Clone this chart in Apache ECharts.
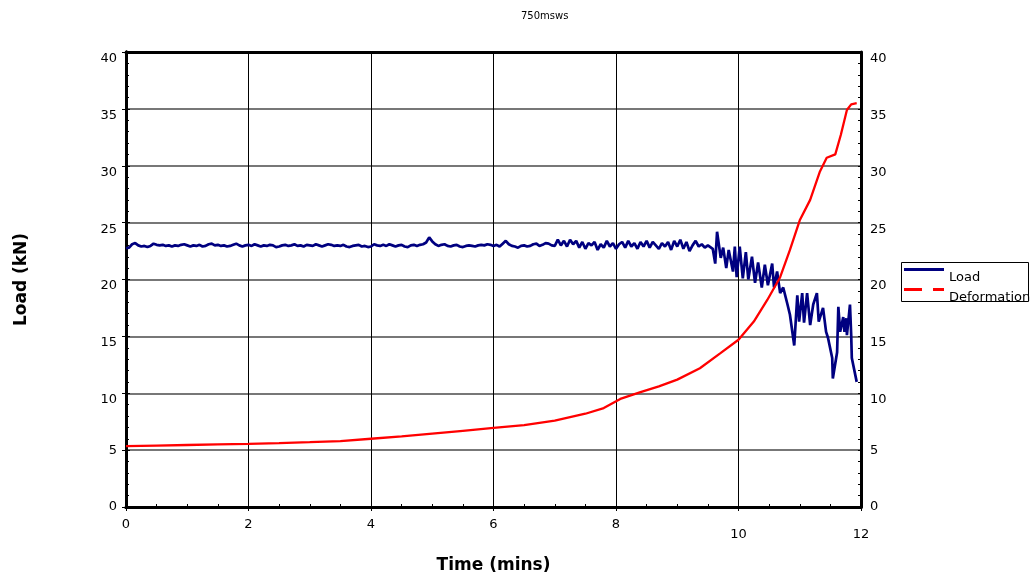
<!DOCTYPE html>
<html>
<head>
<meta charset="utf-8">
<script src="https://cdn.jsdelivr.net/npm/echarts@6/dist/echarts.min.js"></script>
<style>html,body{margin:0;padding:0;background:#fff;}#c{width:1034px;height:581px;}</style>
</head>
<body>
<div id="c"></div>
<script>
var titleText = '750msws';
var xName = 'Time (mins)';
var yName = 'Load (kN)';
var seriesNames = ['Load', 'Deformation'];

// Load (kN) vs time (mins)
var loadData = [
[0,22.75],[0.05,22.8],[0.1,23.1],[0.15,23.2],[0.2,23.0],[0.25,22.9],[0.3,22.95],[0.35,22.85],[0.4,22.95],[0.45,23.15],
[0.5,23.05],[0.55,23.0],[0.6,23.05],[0.65,22.95],[0.7,23.0],[0.75,22.9],[0.8,23.0],[0.85,22.95],[0.9,23.05],[0.95,23.1],
[1.0,23.0],[1.05,22.9],[1.1,23.0],[1.15,22.95],[1.2,23.05],[1.25,22.9],[1.3,22.95],[1.35,23.1],[1.4,23.15],[1.45,23.0],
[1.5,23.05],[1.55,22.95],[1.6,23.0],[1.65,22.9],[1.7,22.95],[1.75,23.05],[1.8,23.15],[1.85,23.0],[1.9,22.9],[1.95,23.0],
[2.0,23.05],[2.05,22.95],[2.1,23.1],[2.15,23.0],[2.2,22.9],[2.25,23.0],[2.3,22.95],[2.35,23.05],[2.4,23.0],[2.45,22.85],
[2.5,22.9],[2.55,23.0],[2.6,23.05],[2.65,22.95],[2.7,23.0],[2.75,23.1],[2.8,22.95],[2.85,23.0],[2.9,22.9],[2.95,23.05],
[3.0,23.0],[3.05,22.95],[3.1,23.1],[3.15,23.0],[3.2,22.9],[3.25,23.0],[3.3,23.1],[3.35,23.05],[3.4,22.95],[3.45,23.0],
[3.5,22.95],[3.55,23.05],[3.6,22.9],[3.65,22.85],[3.7,22.95],[3.75,23.0],[3.8,23.05],[3.85,22.9],[3.9,22.95],[3.95,22.85],
[4.0,22.9],[4.05,23.1],[4.1,23.0],[4.15,22.95],[4.2,23.05],[4.25,22.95],[4.3,23.1],[4.35,23.0],[4.4,22.9],[4.45,23.0],
[4.5,23.05],[4.55,22.9],[4.6,22.85],[4.65,23.0],[4.7,23.05],[4.75,22.95],[4.8,23.05],[4.85,23.1],[4.9,23.25],[4.95,23.7],
[5.0,23.35],[5.05,23.1],[5.1,22.95],[5.15,23.05],[5.2,23.1],[5.25,22.95],[5.3,22.9],[5.35,23.0],[5.4,23.05],[5.45,22.9],
[5.5,22.85],[5.55,22.95],[5.6,23.0],[5.65,22.95],[5.7,22.9],[5.75,23.0],[5.8,23.05],[5.85,23.0],[5.9,23.1],[5.95,23.05],
[6.0,22.95],[6.05,23.05],[6.1,22.9],[6.15,23.15],[6.2,23.4],[6.25,23.1],[6.3,22.95],[6.35,22.9],[6.4,22.8],[6.45,22.95],
[6.5,23.0],[6.55,22.9],[6.6,22.95],[6.65,23.1],[6.7,23.15],[6.75,22.95],[6.8,23.05],[6.85,23.2],[6.9,23.15],[6.95,23.0],
[7.0,22.95],[7.05,23.5],[7.1,23.0],[7.15,23.4],[7.2,22.9],[7.25,23.5],[7.3,23.1],[7.35,23.4],[7.4,22.8],
[7.45,23.3],[7.5,22.7],[7.55,23.2],[7.6,23.0],[7.65,23.3],[7.7,22.6],[7.75,23.1],[7.8,22.8],[7.85,23.4],[7.9,22.9],
[7.95,23.2],[8.0,22.7],[8.05,23.1],[8.1,23.3],[8.15,22.8],[8.2,23.4],[8.25,22.9],[8.3,23.2],[8.35,22.7],[8.4,23.3],
[8.45,22.9],[8.5,23.4],[8.55,22.8],[8.6,23.3],[8.65,23.0],[8.7,22.7],[8.75,23.2],[8.8,22.9],[8.85,23.3],[8.9,22.6],
[8.95,23.4],[9.0,22.9],[9.05,23.5],[9.1,22.7],[9.15,23.3],[9.2,22.5],[9.25,23.0],[9.3,23.4],[9.35,22.9],[9.4,23.1],
[9.45,22.8],[9.5,23.0],[9.58,22.7],[9.62,21.4],[9.65,24.2],[9.71,21.9],[9.75,22.8],[9.80,21.0],[9.84,22.6],[9.91,20.7],
[9.94,22.9],[9.97,20.2],[10.02,22.9],[10.07,20.1],[10.12,22.4],[10.16,20.0],[10.22,22.0],[10.27,19.7],[10.32,21.5],[10.38,19.3],
[10.43,21.3],[10.48,19.5],[10.55,21.4],[10.58,19.3],[10.63,20.7],[10.68,18.8],[10.73,19.3],[10.80,17.8],[10.84,16.9],[10.91,14.2],
[10.96,18.6],[10.99,16.3],[11.04,18.8],[11.07,16.2],[11.12,18.8],[11.17,16.0],[11.22,17.8],[11.28,18.8],[11.31,16.3],[11.38,17.5],
[11.43,15.4],[11.46,14.9],[11.53,13.1],[11.54,11.3],[11.61,13.6],[11.63,17.6],[11.66,15.4],[11.71,16.7],[11.73,15.4],[11.76,16.6],
[11.77,15.1],[11.82,17.8],[11.84,15.1],[11.85,13.1],[11.93,11.0]
];

// Deformation vs time (mins)
var deformData = [
[0,5.35],[0.5,5.4],[1,5.45],[1.5,5.5],[2,5.55],[2.5,5.62],[3,5.7],[3.5,5.8],[4,6.0],[4.5,6.2],[5,6.45],[5.5,6.7],
[6,6.95],[6.5,7.2],[7,7.6],[7.5,8.2],[7.8,8.7],[8.07,9.5],[8.4,10.1],[8.7,10.6],[9.0,11.2],[9.37,12.2],[9.7,13.5],
[10.0,14.7],[10.25,16.3],[10.47,18.2],[10.68,20.2],[10.84,22.6],[11.0,25.2],[11.17,27.0],[11.33,29.5],[11.44,30.7],
[11.58,31.0],[11.67,32.7],[11.77,34.9],[11.84,35.4],[11.93,35.5]
];

var xTicksLow = [0, 2, 4, 6, 8];   // labels on first row
var xTicksHigh = [10, 12];         // labels drawn slightly lower
var yTicksCentered = [0, 5];       // labels centred on their tick
var yTicksLow = [10, 15, 20, 25, 30, 35, 40]; // labels hanging below their tick

var font = 'DejaVu Sans';
var chart = echarts.init(document.getElementById('c'));

function yAx(pos, minor) {
  return {
    type: 'value', position: pos, min: 0, max: 40, interval: 5, offset: 0,
    axisLine: {show: true, lineStyle: {color: '#000', width: 3}},
    axisTick: {show: true, inside: minor, length: minor ? 3 : 4, lineStyle: {color: '#000', width: 1}},
    minorTick: {show: minor, splitNumber: 5, length: 3, lineStyle: {color: '#000', width: 1}},
    axisLabel: {show: true, margin: 9, color: '#000', fontFamily: font, fontSize: 13,
      verticalAlign: minor ? 'top' : 'middle',
      formatter: function (v) {
        var list = minor ? yTicksLow : yTicksCentered;
        return list.indexOf(v) >= 0 ? String(v) : '';
      }},
    splitLine: {show: false},
    minorSplitLine: {show: false}
  };
}

var yAxes = [yAx('left', false), yAx('left', true), yAx('right', false), yAx('right', true)];
yAxes[0].splitLine = {show: true, lineStyle: {color: '#777', width: 2}};
yAxes[0].name = yName;
yAxes[0].nameLocation = 'middle';
yAxes[0].nameRotate = 90;
yAxes[0].nameGap = 96;
yAxes[0].nameTextStyle = {fontFamily: font, fontSize: 17, fontWeight: 'bold', color: '#000'};

var option = {
  backgroundColor: '#fff',
  animation: false,
  title: {text: titleText, left: 516, top: 6, textStyle: {fontFamily: font, fontSize: 10, fontWeight: 'normal', color: '#000'}},
  grid: {left: 126, right: 173, top: 52, bottom: 74, containLabel: false},
  legend: {
    orient: 'vertical', left: 904, top: 268, itemWidth: 40, itemHeight: 20, itemGap: 0,
    padding: 0, symbolKeepAspect: false,
    textStyle: {fontFamily: font, fontSize: 13, color: '#000'},
    data: [
      {name: seriesNames[0], icon: 'path://M0,0H40V3H0ZM0,20H0.01V20.01H0Z', itemStyle: {color: '#000080'}},
      {name: seriesNames[1], icon: 'path://M0,0H18V3H0ZM29,0H40V3H29ZM0,20H0.01V20.01H0Z', itemStyle: {color: '#ff0000'}}
    ]
  },
  xAxis: [
    {type: 'value', position: 'bottom', min: 0, max: 12, interval: 2,
     axisLine: {show: true, onZero: false, lineStyle: {color: '#000', width: 3}},
     axisTick: {show: true, length: 4, lineStyle: {color: '#000'}},
     axisLabel: {margin: 11, color: '#000', fontFamily: font, fontSize: 13,
       formatter: function (v) { return xTicksLow.indexOf(v) >= 0 ? String(v) : ''; }},
     splitLine: {show: true, lineStyle: {color: '#000', width: 1}},
     name: xName, nameLocation: 'middle', nameGap: 50,
     nameTextStyle: {fontFamily: font, fontSize: 17, fontWeight: 'bold', color: '#000'}},
    {type: 'value', position: 'bottom', min: 0, max: 12, interval: 2, offset: 0,
     axisLine: {show: true, onZero: false, lineStyle: {color: '#000', width: 3}},
     axisTick: {show: true, inside: true, length: 3, lineStyle: {color: '#000'}},
     minorTick: {show: true, splitNumber: 4, length: 3, lineStyle: {color: '#000'}},
     axisLabel: {margin: 21, color: '#000', fontFamily: font, fontSize: 13,
       formatter: function (v) { return xTicksHigh.indexOf(v) >= 0 ? String(v) : ''; }},
     splitLine: {show: false}},
    {type: 'value', position: 'top', min: 0, max: 12, interval: 2, offset: 0,
     axisLine: {show: true, onZero: false, lineStyle: {color: '#000', width: 3}},
     axisTick: {show: false}, axisLabel: {show: false}, splitLine: {show: false}}
  ],
  yAxis: yAxes,
  graphic: [
    {type: 'rect', left: 899, top: 260, silent: true, z: 100,
     shape: {x: 0, y: 0, width: 127, height: 39},
     style: {fill: 'none', stroke: '#000', lineWidth: 1}}
  ],
  series: [
    {name: seriesNames[0], type: 'line', xAxisIndex: 0, yAxisIndex: 0, data: loadData,
     showSymbol: false, symbol: 'none', lineStyle: {color: '#000080', width: 2.7}, itemStyle: {color: '#000080'}, z: 3},
    {name: seriesNames[1], type: 'line', xAxisIndex: 0, yAxisIndex: 0, data: deformData,
     showSymbol: false, symbol: 'none', lineStyle: {color: '#ff0000', width: 2.3}, itemStyle: {color: '#ff0000'}, z: 4}
  ]
};
chart.setOption(option);
</script>
</body>
</html>
